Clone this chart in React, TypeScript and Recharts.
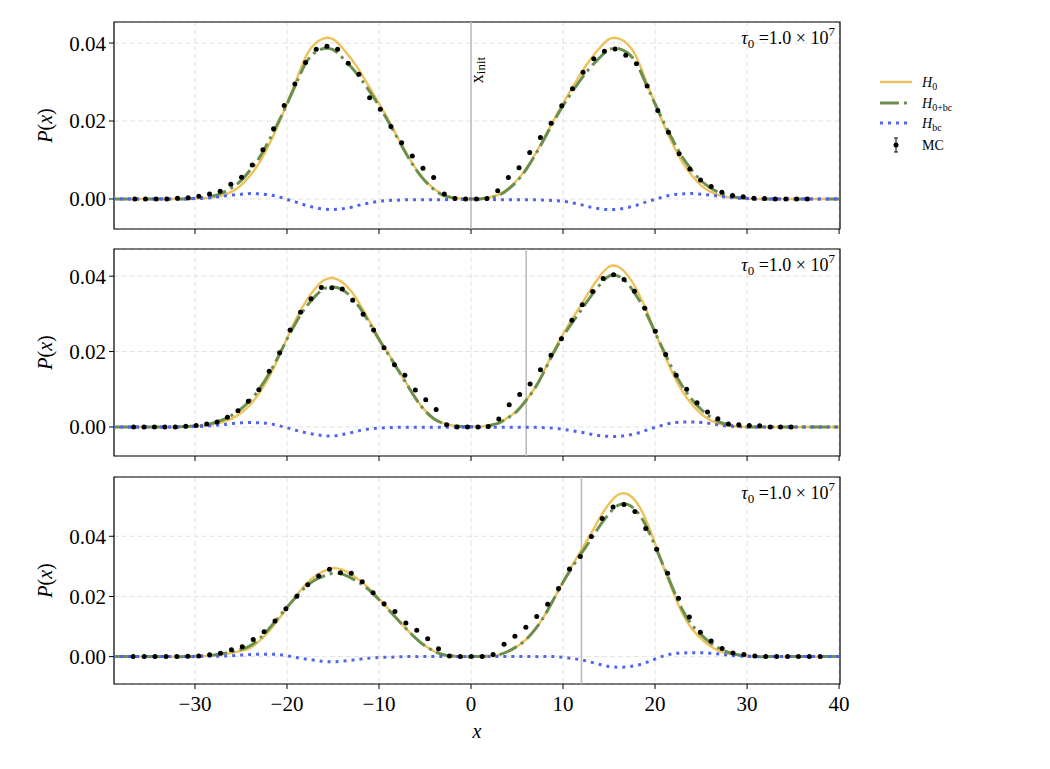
import React from 'react';
import { ComposedChart, Line, XAxis, YAxis, CartesianGrid, ReferenceLine, ReferenceArea } from 'recharts';

const FONT = '"Liberation Serif", "DejaVu Serif", serif';
const GOLD = '#EEC15B';
const GREEN = '#6A8F4E';
const BLUE = '#4F64EE';

// ---------- data ----------
const CURVE_X = [-39,-38,-37,-36,-35,-34,-33,-32,-31,-30,-29,-28,-27,-26,-25,-24,-23,-22,-21,-20,-19,-18,-17,-16,-15,-14,-13,-12,-11,-10,-9,-8,-7,-6,-5,-4,-3,-2,-1,0,1,2,3,4,5,6,7,8,9,10,11,12,13,14,15,16,17,18,19,20,21,22,23,24,25,26,27,28,29,30,31,32,33,34,35,36,37,38,39,40];

const H0_1 = [0,0,0,0,0,0,0,0,0,
0.0001,0.0002,0.0004,0.0009,0.0019,0.0035,0.0060,0.0093,0.0137,0.0188,
0.0245,0.0304,0.0363,0.0397,0.0412,0.0410,0.0388,0.0359,0.0324,0.0285,
0.0245,0.0203,0.0159,0.0116,0.0078,0.0048,0.0026,0.0011,0.0004,0.0001,
0,
0.0001,0.0004,0.0011,0.0026,0.0048,0.0078,0.0116,0.0159,0.0203,0.0245,
0.0285,0.0324,0.0359,0.0388,0.0410,0.0412,0.0397,0.0363,0.0304,0.0245,
0.0188,0.0137,0.0093,0.0060,0.0035,0.0019,0.0009,0.0004,0.0002,0.0001,
0,0,0,0,0,0,0,0,0,0];
const HBC_1 = [0,0,0,0,0,0,0,0,0,
0.0001,0.0002,0.0004,0.0007,0.0010,0.0012,0.0014,0.0013,0.0011,0.0006,
-0.0001,-0.0008,-0.0016,-0.0022,-0.0026,-0.0027,-0.0025,-0.0021,-0.0015,-0.0010,
-0.0006,-0.0004,-0.0003,-0.0002,-0.0002,-0.0002,-0.0002,-0.0002,-0.0001,-0.0001,
0,
-0.0001,-0.0001,-0.0002,-0.0002,-0.0002,-0.0002,-0.0002,-0.0003,-0.0004,-0.0006,
-0.0010,-0.0015,-0.0021,-0.0025,-0.0027,-0.0026,-0.0022,-0.0016,-0.0008,-0.0001,
0.0006,0.0011,0.0013,0.0014,0.0012,0.0010,0.0007,0.0004,0.0002,0.0001,
0,0,0,0,0,0,0,0,0,0];
const H0BC_1 = [0,0,0,0,0,0,0,0,0,
0.0002,0.0004,0.0008,0.0016,0.0029,0.0047,0.0074,0.0106,0.0148,0.0194,
0.0244,0.0296,0.0347,0.0375,0.0386,0.0383,0.0363,0.0338,0.0309,0.0275,
0.0239,0.0199,0.0156,0.0114,0.0076,0.0046,0.0024,0.0009,0.0003,0,
0,
0,0.0003,0.0009,0.0024,0.0046,0.0076,0.0114,0.0156,0.0199,0.0239,
0.0275,0.0309,0.0338,0.0363,0.0383,0.0386,0.0375,0.0347,0.0296,0.0244,
0.0194,0.0148,0.0106,0.0074,0.0047,0.0029,0.0016,0.0008,0.0004,0.0002,
0,0,0,0,0,0,0,0,0,0];

const H0_2 = [0,0,0,0,0,0,
0,0,0.0001,
0.0002,0.0003,0.0007,0.0013,0.0022,0.0037,0.0059,0.0090,0.0130,0.0180,
0.0235,0.0287,0.0331,0.0365,0.0389,0.0395,0.0384,0.0359,0.0322,0.0279,
0.0235,0.0195,0.0155,0.0115,0.0076,0.0044,0.0022,0.0010,0.0004,0.0002,
0.0001,
0.0001,0.0005,0.0011,0.0025,0.0043,0.0072,0.0106,0.0152,0.0201,0.0246,
0.0287,0.0325,0.0365,0.0400,0.0425,0.0425,0.0403,0.0364,0.0313,0.0252,
0.0193,0.0138,0.0094,0.0060,0.0035,0.0018,0.0008,0.0004,0.0001,0,
0,0,0,0,0,0,0,0,0,0];
const HBC_2 = [0,0,0,0,0,0,0,0,0,
0.0001,0.0002,0.0004,0.0006,0.0009,0.0011,0.0012,0.0011,0.0009,0.0004,
-0.0002,-0.0009,-0.0015,-0.0020,-0.0023,-0.0024,-0.0020,-0.0015,-0.0009,-0.0005,
-0.0003,-0.0002,-0.0001,-0.0001,-0.0001,-0.0001,-0.0001,-0.0001,-0.0001,-0.0001,
0,
-0.0001,-0.0001,-0.0001,-0.0001,-0.0001,-0.0001,-0.0001,-0.0002,-0.0003,-0.0006,
-0.0010,-0.0014,-0.0019,-0.0023,-0.0025,-0.0025,-0.0022,-0.0017,-0.0009,-0.0001,
0.0006,0.0011,0.0013,0.0013,0.0012,0.0009,0.0005,0.0002,0.0001,0,
0,0,0,0,0,0,0,0,0,0];
const H0BC_2 = [0,0,0,0,0,0,
0,0,0.0001,
0.0003,0.0005,0.0011,0.0019,0.0031,0.0048,0.0071,0.0101,0.0139,0.0184,
0.0233,0.0278,0.0316,0.0345,0.0366,0.0371,0.0364,0.0344,0.0313,0.0274,
0.0232,0.0193,0.0154,0.0114,0.0075,0.0043,0.0021,0.0009,0.0003,0.0001,
0.0001,
0,0.0004,0.0010,0.0024,0.0042,0.0071,0.0105,0.0150,0.0198,0.0240,
0.0277,0.0311,0.0346,0.0377,0.0400,0.0400,0.0381,0.0347,0.0304,0.0251,
0.0199,0.0149,0.0107,0.0073,0.0047,0.0027,0.0013,0.0006,0.0002,0,
0,0,0,0,0,0,0,0,0,0];

const H0_3 = [0,0,0,0,0,0,0,0,0,
0.0001,0.0002,0.0004,0.0008,0.0013,0.0019,0.0029,0.0052,0.0083,0.0121,
0.0161,0.0202,0.0239,0.0266,0.0284,0.0294,0.0289,0.0273,0.0251,0.0224,
0.0192,0.0159,0.0125,0.0091,0.0061,0.0036,0.0018,0.0006,0.0002,0,
0,
0.0001,0.0002,0.0006,0.0017,0.0034,0.0057,0.0092,0.0137,0.0192,0.0249,
0.0303,0.0355,0.0406,0.0461,0.0508,0.0538,0.0540,0.0512,0.0456,0.0376,
0.0292,0.0212,0.0142,0.0093,0.0060,0.0035,0.0018,0.0009,0.0004,0.0001,
0,0,0,0,0,0,0,0,0,0];
const HBC_3 = [0,0,0,0,0,0,0,0,0,
0,0.0001,0.0001,0.0002,0.0003,0.0005,0.0007,0.0008,0.0008,0.0007,
0.0003,-0.0003,-0.0008,-0.0012,-0.0016,-0.0017,-0.0015,-0.0012,-0.0008,-0.0005,
-0.0003,-0.0002,-0.0001,0,0,0,0,0,0,0,
0,
0,0,0,0,0,0,0,0,0,-0.0002,
-0.0006,-0.0011,-0.0018,-0.0026,-0.0033,-0.0035,-0.0034,-0.0029,-0.0020,-0.0008,
0.0003,0.0010,0.0012,0.0013,0.0013,0.0011,0.0009,0.0005,0.0002,0.0001,
0,0,0,0,0,0,0,0,0,0];
const H0BC_3 = [0,0,0,0,0,0,0,0,0,
0.0001,0.0003,0.0005,0.0010,0.0016,0.0024,0.0036,0.0060,0.0091,0.0128,
0.0164,0.0199,0.0231,0.0254,0.0268,0.0277,0.0274,0.0261,0.0243,0.0219,
0.0189,0.0157,0.0124,0.0091,0.0061,0.0036,0.0018,0.0006,0.0002,0,
0,
0.0001,0.0002,0.0006,0.0017,0.0034,0.0057,0.0092,0.0137,0.0192,0.0247,
0.0297,0.0344,0.0388,0.0435,0.0475,0.0503,0.0506,0.0483,0.0436,0.0368,
0.0295,0.0222,0.0154,0.0106,0.0073,0.0046,0.0027,0.0014,0.0006,0.0002,
0,0,0,0,0,0,0,0,0,0];

const MC1_X = [-36.54,-35.38,-34.22,-33.06,-31.90,-30.74,-29.58,-28.42,-27.26,-26.10,-24.94,-23.78,-22.62,-21.46,-20.30,-19.14,-17.98,-16.82,-15.66,-14.50,-13.34,-12.18,-11.02,-9.86,-8.70,-7.54,-6.38,-5.22,-4.06,-2.90,-1.74,-0.58,
0.58,1.74,2.90,4.06,5.22,6.38,7.54,8.70,9.86,11.02,12.18,13.34,14.50,15.66,16.82,17.98,19.14,20.30,21.46,22.62,23.78,24.94,26.10,27.26,28.42,29.58,30.74,31.90,33.06,34.22,35.38,36.54];
const MC1_Y = [0,0,0,0,0.0002,0.0003,0.0007,0.0013,0.0020,0.0038,0.0056,0.0087,0.0126,0.0180,0.0240,0.0295,0.0350,0.0384,0.0392,0.0384,0.0348,0.0320,0.0260,0.0230,0.0186,0.0144,0.0110,0.0079,0.0055,0.0013,0.0001,0,
0,0.0001,0.0021,0.0055,0.0080,0.0119,0.0158,0.0194,0.0239,0.0283,0.0325,0.0360,0.0379,0.0385,0.0369,0.0347,0.0290,0.0227,0.0171,0.0116,0.0077,0.0049,0.0032,0.0017,0.0009,0.0006,0.0002,0.0001,0,0,0,0];

const MC2_X = [-36.67,-35.54,-34.40,-33.27,-32.14,-31.00,-29.87,-28.73,-27.60,-26.47,-25.33,-24.20,-23.06,-21.93,-20.80,-19.66,-18.53,-17.39,-16.26,-15.13,-13.99,-12.86,-11.72,-10.59,-9.46,-8.32,-7.19,-6.05,-4.92,-3.79,-2.65,-1.52,-0.38,
0.75,1.88,3.02,4.15,5.29,6.42,7.55,8.69,9.82,10.96,12.09,13.22,14.36,15.49,16.63,17.76,18.89,20.03,21.16,22.30,23.43,24.56,25.70,26.83,27.97,29.10,30.24,31.37,32.51,33.64,34.78];
const MC2_Y = [0,0,0,0,0,0.0002,0.0004,0.0008,0.0013,0.0026,0.0043,0.0068,0.0099,0.0148,0.0197,0.0257,0.0304,0.0340,0.0370,0.0369,0.0366,0.0336,0.0299,0.0257,0.0210,0.0165,0.0137,0.0098,0.0072,0.0046,0.0006,0,0,
0,0.0001,0.0021,0.0059,0.0086,0.0114,0.0152,0.0190,0.0234,0.0283,0.0324,0.0359,0.0394,0.0404,0.0391,0.0360,0.0315,0.0254,0.0192,0.0137,0.0100,0.0064,0.0040,0.0022,0.0008,0.0006,0.0004,0.0003,0,0,0];

const MC3_X = [-36.71,-35.52,-34.34,-33.15,-31.97,-30.78,-29.60,-28.41,-27.23,-26.04,-24.86,-23.67,-22.49,-21.30,-20.12,-18.93,-17.75,-16.56,-15.38,-14.19,-13.01,-11.82,-10.64,-9.45,-8.27,-7.08,-5.90,-4.71,-3.53,-2.34,-1.16,
0.03,1.22,2.40,3.59,4.77,5.96,7.14,8.33,9.51,10.70,11.88,13.07,14.25,15.44,16.62,17.81,18.99,20.18,21.36,22.55,23.73,24.92,26.10,27.29,28.47,29.66,30.84,32.03,33.21,34.40,35.58,36.77,37.95];
const MC3_Y = [0,0,0,0,0,0.0001,0.0002,0.0006,0.0011,0.0023,0.0033,0.0057,0.0083,0.0118,0.0159,0.0201,0.0239,0.0268,0.0290,0.0279,0.0277,0.0249,0.0212,0.0176,0.0150,0.0112,0.0088,0.0059,0.0026,0.0002,0,
0,
0,0.0007,0.0041,0.0068,0.0098,0.0133,0.0174,0.0226,0.0291,0.0333,0.0399,0.0459,0.0497,0.0506,0.0482,0.0426,0.0357,0.0277,0.0194,0.0132,0.0081,0.0052,0.0027,0.0012,0.0007,0.0002,0,0,0,0,0,0];

const X_INIT = [0, 6, 12];
const X_DOMAIN: [number, number] = [-38.8, 40.1];
const X_TICKS = [-30, -20, -10, 0, 10, 20, 30, 40];
const Y_TICKS = [0, 0.02, 0.04];
const Y_DOMAINS: [number, number][] = [[-0.0077, 0.0454], [-0.0077, 0.0472], [-0.0091, 0.0597]];
const TAU_TEXT = ' =1.0 × 10';

// ---------- labels ----------
function PLabel(props: any) {
  const vb = props.viewBox || { x: 0, y: 0, width: 0, height: 0 };
  const cx = vb.x + 11;
  const cy = vb.y + vb.height / 2;
  return (
    <text x={cx} y={cy} transform={`rotate(-90 ${cx} ${cy})`} textAnchor="middle" dominantBaseline="central" fontFamily={FONT} fontSize={20} fill="#000">
      <tspan fontStyle="italic">P</tspan>(<tspan fontStyle="italic">x</tspan>)
    </text>
  );
}

function XLabel(props: any) {
  const vb = props.viewBox || { x: 0, y: 0, width: 0, height: 0 };
  return (
    <text x={vb.x + vb.width / 2} y={vb.y + vb.height - 6} textAnchor="middle" fontFamily={FONT} fontSize={20} fontStyle="italic" fill="#000">x</text>
  );
}

function XInitLabel(props: any) {
  const vb = props.viewBox || { x: 0, y: 0, width: 0, height: 0 };
  const cx = vb.x + 6;
  const cy = vb.y + 48;
  return (
    <text x={cx} y={cy} transform={`rotate(-90 ${cx} ${cy})`} textAnchor="middle" dominantBaseline="central" fontFamily={FONT} fontSize={18} fill="#000">
      x<tspan fontSize={13} dy={3}>init</tspan>
    </text>
  );
}

function TauLabel(props: any) {
  const vb = props.viewBox || { x: 0, y: 0, width: 0, height: 0 };
  const x = vb.x + vb.width - 5;
  const y = vb.y + 22;
  return (
    <text x={x} y={y} textAnchor="end" fontFamily={FONT} fontSize={18} fill="#000">
      <tspan fontStyle="italic">τ</tspan><tspan fontSize={13} dy={4}>0</tspan><tspan dy={-4}>{TAU_TEXT}</tspan><tspan fontSize={13} dy={-8}>7</tspan>
    </text>
  );
}

const fmtX = (v: number) => (v < 0 ? `\u2212${Math.abs(v)}` : `${v}`);
const fmtNone = () => '';
const fmtY = (v: number) => v.toFixed(2);

function Panel({ idx, h0, h0bc, hbc, mcX, mcY }: { idx: number; h0: number[]; h0bc: number[]; hbc: number[]; mcX: number[]; mcY: number[] }) {
  const isLast = idx === 2;
  const yDomain = Y_DOMAINS[idx];
  const curveData = CURVE_X.map((x, i) => ({ x, h0: h0[i], h0bc: h0bc[i], hbc: hbc[i] }));
  const mcData = mcX.map((x, i) => ({ x, mc: mcY[i] }));
  const height = isLast ? 314 : 245;
  const tops = [0, 227, 455];
  return (
    <div style={{ position: 'absolute', left: 0, top: tops[idx], width: 1050, height }}>
      <ComposedChart width={1050} height={height} data={curveData} margin={{ top: 22, right: 210, bottom: isLast ? 25 : 6, left: 34 }}>
        <CartesianGrid stroke="#e2e2e2" strokeDasharray="5 3" strokeWidth={1} />
        <XAxis
          type="number"
          dataKey="x"
          domain={X_DOMAIN}
          ticks={X_TICKS}
          allowDataOverflow
          interval={0}
          height={isLast ? 60 : 10}
          tickSize={5}
          tickMargin={7}
          axisLine={false}
          tickLine={{ stroke: '#000', strokeWidth: 1 }}
          tick={{ fill: '#000', fontSize: 21, fontFamily: FONT }}
          tickFormatter={isLast ? fmtX : fmtNone}
          label={isLast ? <XLabel /> : undefined}
        />
        <YAxis
          type="number"
          domain={yDomain}
          ticks={Y_TICKS}
          allowDataOverflow
          interval={0}
          width={80}
          tickSize={5}
          tickMargin={3}
          axisLine={false}
          tickLine={{ stroke: '#000', strokeWidth: 1 }}
          tick={{ fill: '#000', fontSize: 21, fontFamily: FONT }}
          tickFormatter={fmtY}
          label={<PLabel />}
        />
        <ReferenceLine x={X_INIT[idx]} stroke="#bdbdbd" strokeWidth={1.6} label={idx === 0 ? <XInitLabel /> : undefined} />
        <Line type="natural" dataKey="h0" stroke={GOLD} strokeWidth={2.4} dot={false} activeDot={false} isAnimationActive={false} />
        <Line type="natural" dataKey="h0bc" stroke={GREEN} strokeWidth={3} strokeDasharray="19 5 3 5" dot={false} activeDot={false} isAnimationActive={false} />
        <Line type="natural" dataKey="hbc" stroke={BLUE} strokeWidth={3} strokeDasharray="3 5" dot={false} activeDot={false} isAnimationActive={false} />
        <Line data={mcData} dataKey="mc" stroke="none" dot={{ r: 2.5, fill: '#000', stroke: 'none' }} activeDot={false} isAnimationActive={false} />
        <ReferenceArea x1={X_DOMAIN[0]} x2={X_DOMAIN[1]} y1={yDomain[0]} y2={yDomain[1]} fill="none" fillOpacity={0} stroke="#000" strokeWidth={1.2} label={<TauLabel />} />
      </ComposedChart>
    </div>
  );
}

function LegendBox() {
  const fs = 14;
  return (
    <svg style={{ position: 'absolute', left: 870, top: 66 }} width={120} height={92}>
      <line x1={10} x2={42} y1={16} y2={16} stroke={GOLD} strokeWidth={2.4} />
      <text x={52} y={21} fontFamily={FONT} fontSize={fs} fill="#000"><tspan fontStyle="italic">H</tspan><tspan fontSize={10} dy={3}>0</tspan></text>
      <line x1={10} x2={42} y1={37} y2={37} stroke={GREEN} strokeWidth={3} strokeDasharray="19 5 3 5" />
      <text x={52} y={42} fontFamily={FONT} fontSize={fs} fill="#000"><tspan fontStyle="italic">H</tspan><tspan fontSize={10} dy={3}>0+bc</tspan></text>
      <line x1={10} x2={42} y1={57} y2={57} stroke={BLUE} strokeWidth={3} strokeDasharray="3 5" />
      <text x={52} y={62} fontFamily={FONT} fontSize={fs} fill="#000"><tspan fontStyle="italic">H</tspan><tspan fontSize={10} dy={3}>bc</tspan></text>
      <line x1={26} x2={26} y1={72} y2={86} stroke="#000" strokeWidth={1} />
      <line x1={24} x2={28} y1={72} y2={72} stroke="#000" strokeWidth={1} />
      <line x1={24} x2={28} y1={86} y2={86} stroke="#000" strokeWidth={1} />
      <circle cx={26} cy={79} r={2.5} fill="#000" />
      <text x={52} y={84} fontFamily={FONT} fontSize={fs} fill="#000">MC</text>
    </svg>
  );
}

export default function App() {
  return (
    <div style={{ position: 'absolute', left: 0, top: 0, width: 1050, height: 769, background: '#fff', overflow: 'hidden' }}>
      <Panel idx={0} h0={H0_1} h0bc={H0BC_1} hbc={HBC_1} mcX={MC1_X} mcY={MC1_Y} />
      <Panel idx={1} h0={H0_2} h0bc={H0BC_2} hbc={HBC_2} mcX={MC2_X} mcY={MC2_Y} />
      <Panel idx={2} h0={H0_3} h0bc={H0BC_3} hbc={HBC_3} mcX={MC3_X} mcY={MC3_Y} />
      <LegendBox />
    </div>
  );
}
